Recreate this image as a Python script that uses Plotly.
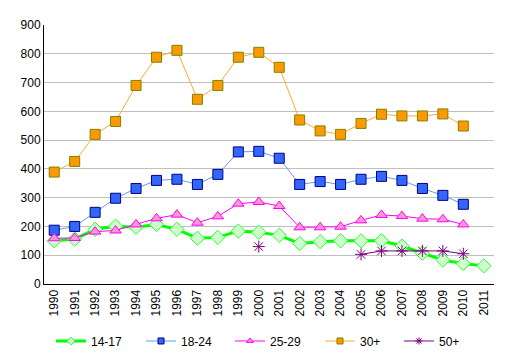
import plotly.graph_objects as go

years = [str(y) for y in range(1990, 2012)]
s14_17 = [150, 156, 190, 201, 197, 207, 190, 159, 162, 184, 180, 169, 141, 147, 150, 150, 150, 132, 107, 83, 71, 63]
s18_24 = [187, 200, 249, 298, 332, 360, 364, 346, 381, 459, 461, 437, 346, 356, 346, 364, 374, 360, 332, 308, 277, None]
s25_29 = [159, 160, 182, 186, 207, 228, 241, 213, 235, 279, 285, 271, 197, 197, 199, 221, 240, 236, 227, 225, 207, None]
s30p = [389, 426, 520, 565, 690, 788, 812, 642, 690, 788, 805, 753, 570, 532, 520, 558, 590, 584, 584, 591, 549, None]
s50p = [None]*10 + [130] + [None]*4 + [103, 115, 115, 115, 115, 105, None]

series = [
    ("14-17", s14_17, dict(color="#00FF00", width=3), "diamond", 11, "#CCFFCC", "#33FF33"),
    ("18-24", s18_24, dict(color="#6699FF", width=1), "square", 10, "#3366FF", "#000080"),
    ("25-29", s25_29, dict(color="#FF00FF", width=1), "triangle-up", 10, "#FF99CC", "#FF00FF"),
    ("30+", s30p, dict(color="#FFAA33", width=1), "square", 10, "#FF9900", "#808000"),
    ("50+", s50p, dict(color="#800080", width=1), "asterisk-open", 10, "#800080", "#800080"),
]
legend_x = [0.0156, 0.2156, 0.4133, 0.6133, 0.7889]

fig = go.Figure()
for name, vals, line, sym, size, fill, edge in series:
    fig.add_trace(go.Scatter(x=years, y=vals, name=name, mode="lines+markers", line=line,
        showlegend=False, legendgroup=name,
        marker=dict(symbol=sym, size=size, color=fill, line=dict(color=edge, width=1))))
for i, (name, vals, line, sym, size, fill, edge) in enumerate(series):
    fig.add_trace(go.Scatter(x=[None], y=[None], name=name, mode="lines+markers", line=line,
        showlegend=True, legendgroup=name, legend="legend" if i == 0 else f"legend{i+1}",
        marker=dict(symbol=sym, size=6, color=fill, line=dict(color=edge, width=1))))

legends = {}
for i, lx in enumerate(legend_x):
    key = "legend" if i == 0 else f"legend{i+1}"
    legends[key] = dict(orientation="h", x=lx, xanchor="left", y=-0.22, yanchor="middle",
                        font=dict(size=12), bgcolor="rgba(0,0,0,0)")

# the page body has an 8px default margin, so the figure is 8px smaller
fig.update_layout(
    width=500, height=353,
    margin=dict(l=36, r=14, t=17, b=77, autoexpand=False),
    paper_bgcolor="white", plot_bgcolor="white",
    font=dict(family="Liberation Sans, Arial, sans-serif", size=12, color="black"),
    showlegend=True,
    **legends,
)
fig.update_xaxes(type="category", tickangle=-90, showline=True, linecolor="black", linewidth=1,
                 showgrid=False, ticks="", range=[-0.5, 21.5], automargin=False)
fig.update_yaxes(range=[0, 900], dtick=100, showline=True, linecolor="black", linewidth=1,
                 gridcolor="#C0C0C0", zeroline=False, ticks="", automargin=False)

fig.write_html("out.html")
